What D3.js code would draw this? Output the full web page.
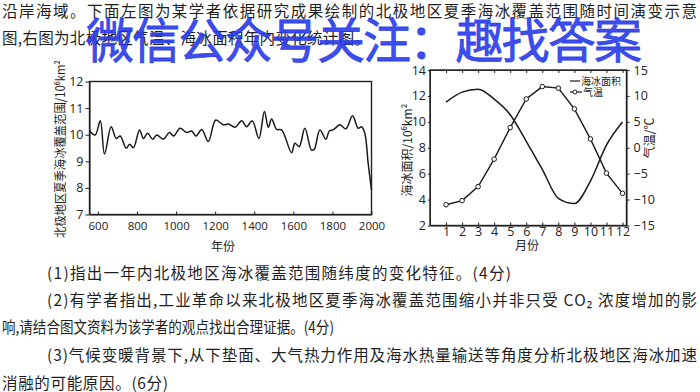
<!DOCTYPE html>
<html>
<head>
<meta charset="utf-8">
<script src="https://cdn.jsdelivr.net/npm/d3@7"></script>
<style>
  body { margin: 0; background: #fff; }
  svg { display: block; font-family: "Noto Sans CJK SC", "Noto Sans", sans-serif; }
  .axis path, .axis line { stroke: #222; }
  .axis text { fill: #222; font-family: "Open Sans", "Noto Sans", sans-serif; }
</style>
</head>
<body>
<svg width="700" height="392"></svg>
<script>
// ---- data ----
// left chart: summer sea-ice extent over time (10^6 km2)
var years = [557, 586, 612, 634, 668, 694, 714, 745, 762, 782, 813, 833, 854, 881, 901, 935, 966, 987,
    1021, 1055, 1080, 1102, 1131, 1165, 1203, 1242, 1268, 1302, 1336, 1361, 1390, 1424, 1452, 1472,
    1489, 1515, 1540, 1591, 1608, 1630, 1659, 1693, 1707, 1736, 1767, 1784, 1804, 1838, 1869, 1903,
    1932, 1949, 1966, 1983, 2000];
var iceExtent = [10.15, 9.99, 10.52, 9.27, 10.3, 9.86, 9.95, 9.49, 9.64, 9.51, 10.18, 9.86, 10.05, 9.83,
    9.99, 9.83, 10.08, 9.95, 10.24, 10.08, 10.14, 9.95, 10.2, 9.74, 10.55, 10.37, 10.4, 10.28, 10.52,
    10.3, 10.52, 9.86, 10.87, 10.28, 10.59, 10.2, 10.18, 9.32, 9.68, 9.55, 10.24, 9.42, 9.45, 10.18,
    9.83, 10.14, 10.18, 10.37, 10.22, 10.71, 10.24, 10.3, 10.05, 8.92, 7.92];
var yearTicks = [600, 800, 1000, 1200, 1400, 1600, 1800, 2000];
var extentTicks = [7, 8, 9, 10, 11, 12];

// right chart: monthly sea-ice area and air temperature
var months = [1, 2, 3, 4, 5, 6, 7, 8, 9, 10, 11, 12];
var iceArea = [11.52, 12.29, 12.52, 11.75, 10.55, 8.5, 6.33, 4.1, 3.69, 5.43, 8.2, 9.98];
var temperature = [-11.0, -10.2, -7.5, -2.2, 3.9, 9.4, 11.8, 11.5, 7.5, 1.7, -4.9, -8.8];
var areaTicks = [2, 4, 6, 8, 10, 12, 14];
var tempTicks = [-15, -10, -5, 0, 5, 10, 15];

var topLines = [
    "沿岸海域。下面左图为某学者依据研究成果绘制的北极地区夏季海冰覆盖范围随时间演变示意",
    "图,右图为北极地区气温、海冰面积年内变化统计图。"
];
var questionLines = [
    "(1)指出一年内北极地区海冰覆盖范围随纬度的变化特征。(4分)",
    "(2)有学者指出,工业革命以来北极地区夏季海冰覆盖范围缩小并非只受 CO₂ 浓度增加的影",
    "响,请结合图文资料为该学者的观点找出合理证据。(4分)",
    "(3)气候变暖背景下,从下垫面、大气热力作用及海水热量输送等角度分析北极地区海冰加速",
    "消融的可能原因。(6分)"
];

var svg = d3.select("svg");
svg.append("rect").attr("width", 700).attr("height", 392).attr("fill", "#fff");

//==========================================================================
// Page text

var ink = "#1e1e1e";
var intro = svg.append("g").attr("fill", ink).style("font-size", "15.5px");
intro.append("text").attr("x", 2).attr("y", 17).attr("textLength", 695).attr("lengthAdjust", "spacing").text(topLines[0]);
intro.append("text").attr("x", 2).attr("y", 44).attr("textLength", 368).attr("lengthAdjust", "spacing").text(topLines[1]);

var qs = svg.append("g").attr("fill", ink).style("font-size", "15.5px");
var qSpec = [
    {x: 47, y: 279, len: 464, adj: "spacing"},
    {x: 47, y: 306, len: 650, adj: "spacing"},
    {x: 2, y: 333, len: 332, adj: "spacingAndGlyphs"},
    {x: 47, y: 361, len: 650, adj: "spacing"},
    {x: 2, y: 389, len: 166, adj: "spacing"}
];
qSpec.forEach(function(s, i) {
    qs.append("text").attr("x", s.x).attr("y", s.y)
        .attr("textLength", s.len).attr("lengthAdjust", s.adj)
        .text(questionLines[i]);
});

//==========================================================================
// Left chart

var xL = d3.scaleLinear().domain([557, 2000]).range([89.5, 371.5]);
var yL = d3.scaleLinear().domain([7, 12]).range([214.5, 81.5]);

var left = svg.append("g");

left.append("g").attr("class", "axis")
    .attr("transform", "translate(0,214.5)")
    .call(d3.axisBottom(xL).tickValues(yearTicks).tickFormat(d3.format("d"))
        .tickSize(-3).tickPadding(7).tickSizeOuter(0))
    .call(function(g) { g.selectAll("text").style("font-size", "11.5px"); });

left.append("g").attr("class", "axis")
    .attr("transform", "translate(89.5,0)")
    .call(d3.axisLeft(yL).tickValues(extentTicks).tickFormat(d3.format("d"))
        .tickSize(4).tickPadding(2).tickSizeOuter(0))
    .call(function(g) { g.selectAll("text").style("font-size", "12.5px"); });

left.append("rect")
    .attr("x", xL.range()[0]).attr("y", yL(12))
    .attr("width", xL.range()[1] - xL.range()[0]).attr("height", yL(7) - yL(12))
    .attr("fill", "none").attr("stroke", "#222").attr("stroke-width", 1.4);

var extentLine = d3.line()
    .x(function(d, i) { return xL(years[i]); })
    .y(function(d) { return yL(d); })
    .curve(d3.curveCatmullRom.alpha(0.5));

left.append("path")
    .attr("d", extentLine(iceExtent))
    .attr("fill", "none").attr("stroke", "#1a1a1a").attr("stroke-width", 1.5);

left.append("text").attr("x", 223).attr("y", 251).attr("text-anchor", "middle")
    .attr("fill", ink).style("font-size", "12px").text("年份");

left.append("text")
    .attr("transform", "translate(65,149) rotate(-90)")
    .attr("text-anchor", "middle").attr("fill", ink).style("font-size", "12.5px")
    .attr("textLength", 178).attr("lengthAdjust", "spacingAndGlyphs")
    .text("北极地区夏季海冰覆盖范围/10⁶km²");

//==========================================================================
// Right chart

var xR = d3.scaleLinear().domain([0, 12.25]).range([430, 626.5]);
var yA = d3.scaleLinear().domain([2, 14]).range([225.5, 70]);
var yT = d3.scaleLinear().domain([-15, 15]).range([225.5, 70]);

var right = svg.append("g");

right.append("g").attr("class", "axis")
    .attr("transform", "translate(0,225.5)")
    .call(d3.axisBottom(xR).tickValues(months).tickSize(-3).tickPadding(2).tickSizeOuter(0))
    .call(function(g) { g.selectAll("text").style("font-size", "12.5px"); });

right.append("g").attr("class", "axis")
    .attr("transform", "translate(0,70)")
    .call(d3.axisTop(xR).tickValues(months).tickSize(-3).tickFormat("").tickSizeOuter(0));

right.append("g").attr("class", "axis")
    .attr("transform", "translate(430,0)")
    .call(d3.axisLeft(yA).tickValues(areaTicks).tickSize(2).tickPadding(2).tickSizeOuter(0))
    .call(function(g) { g.selectAll("text").style("font-size", "12.5px"); });

right.append("g").attr("class", "axis")
    .attr("transform", "translate(626.5,0)")
    .call(d3.axisRight(yT).tickValues(tempTicks).tickSize(3).tickPadding(4).tickSizeOuter(0))
    .call(function(g) { g.selectAll("text").style("font-size", "12.5px"); });

right.append("rect")
    .attr("x", 430).attr("y", 70).attr("width", 196.5).attr("height", 155.5)
    .attr("fill", "none").attr("stroke", "#222").attr("stroke-width", 1.4);

var areaLine = d3.line()
    .x(function(d, i) { return xR(months[i]); })
    .y(function(d) { return yA(d); })
    .curve(d3.curveMonotoneX);

var tempLine = d3.line()
    .x(function(d, i) { return xR(months[i]); })
    .y(function(d) { return yT(d); });

right.append("path").attr("d", areaLine(iceArea))
    .attr("fill", "none").attr("stroke", "#1a1a1a").attr("stroke-width", 1.5);

right.append("path").attr("d", tempLine(temperature))
    .attr("fill", "none").attr("stroke", "#1a1a1a").attr("stroke-width", 1.4);

right.selectAll(".tmark")
    .data(temperature)
    .enter()
    .append("circle")
    .attr("class", "tmark")
    .attr("cx", function(d, i) { return xR(months[i]); })
    .attr("cy", function(d) { return yT(d); })
    .attr("r", 2.3)
    .attr("fill", "#fff").attr("stroke", "#1a1a1a").attr("stroke-width", 1);

// legend
var legend = right.append("g").attr("fill", ink).style("font-size", "10px");
legend.append("line").attr("x1", 570).attr("x2", 580).attr("y1", 81).attr("y2", 81)
    .attr("stroke", "#1a1a1a").attr("stroke-width", 1.2);
legend.append("text").attr("x", 581).attr("y", 85).text("海冰面积");
legend.append("line").attr("x1", 570).attr("x2", 582).attr("y1", 92).attr("y2", 92)
    .attr("stroke", "#1a1a1a").attr("stroke-width", 1.2);
legend.append("circle").attr("cx", 575).attr("cy", 92).attr("r", 2)
    .attr("fill", "#fff").attr("stroke", "#1a1a1a");
legend.append("text").attr("x", 583).attr("y", 96).text("气温");

right.append("text").attr("x", 527).attr("y", 250).attr("text-anchor", "middle")
    .attr("fill", ink).style("font-size", "12px").text("月份");

right.append("text")
    .attr("transform", "translate(412,150) rotate(-90)")
    .attr("text-anchor", "middle").attr("fill", ink).style("font-size", "12px")
    .text("海冰面积/10⁶km²");

right.append("text")
    .attr("transform", "translate(654,138) rotate(-90)")
    .attr("text-anchor", "middle").attr("fill", ink).style("font-size", "12px")
    .text("气温/℃");

//==========================================================================
// Watermark overlay

svg.append("text")
    .attr("x", 86).attr("y", 58)
    .attr("textLength", 556).attr("lengthAdjust", "spacing")
    .attr("fill", "#2a3ce8").attr("fill-opacity", 0.92)
    .attr("stroke", "#2a3ce8").attr("stroke-opacity", 0.92).attr("stroke-width", 0.8)
    .style("font-size", "48px")
    .text("微信公众号关注：趣找答案");
</script>
</body>
</html>
